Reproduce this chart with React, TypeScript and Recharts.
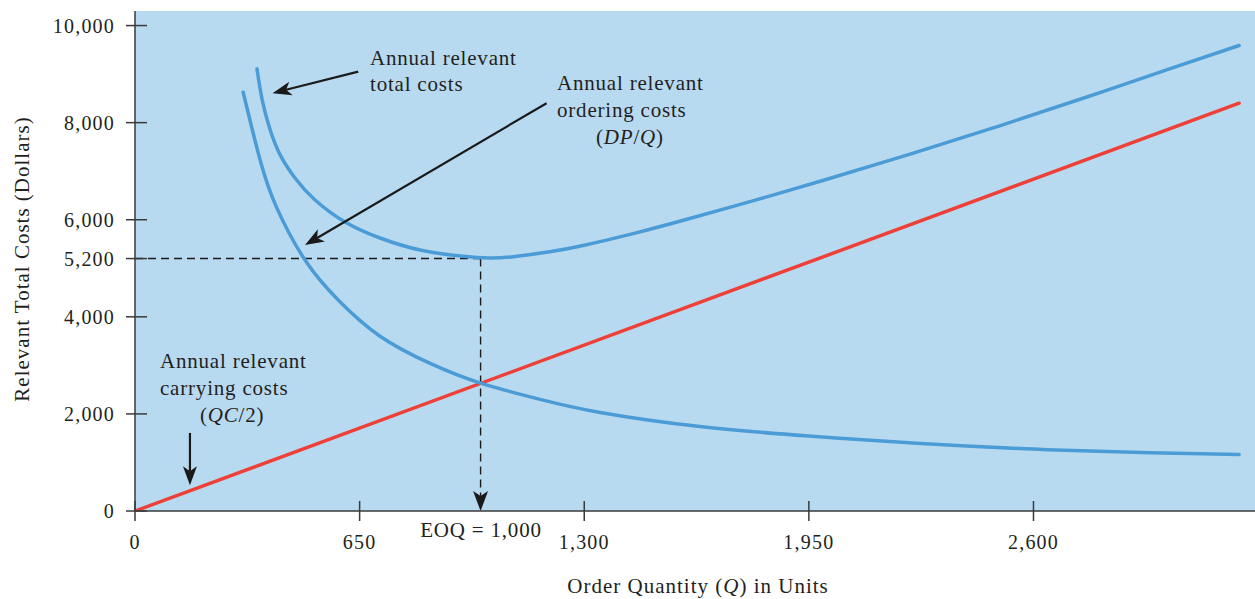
import React from "react";
import { LineChart, Line, XAxis, YAxis, CartesianGrid, ReferenceLine } from "recharts";

// ---- Data ----
const orderingQ = [313, 362, 410, 492, 588, 709, 854, 998, 1172, 1346, 1635, 1950, 2262, 2601, 2937, 3195];
const orderingV = [8627, 7231, 6250, 5169, 4345, 3600, 3040, 2639, 2300, 2030, 1740, 1545, 1395, 1275, 1200, 1163];

const totalQ = [353, 368, 391, 420, 463, 521, 608, 709, 825, 941, 1027, 1100, 1200, 1300, 1450, 1600, 1800, 2000, 2250, 2500, 2750, 3000, 3195];
const totalV = [9108, 8470, 7852, 7336, 6860, 6408, 5954, 5624, 5376, 5252, 5212, 5244, 5339, 5474, 5729, 6014, 6414, 6830, 7368, 7930, 8518, 9123, 9590];

const carryingQ = [0, 3195];
const carryingV = [0, 8400];

const xTicks = [0, 650, 1300, 1950, 2600];
const xTickLabels = ["0", "650", "1,300", "1,950", "2,600"];
const yTicks = [0, 2000, 4000, 5200, 6000, 8000, 10000];
const yTickLabels = ["0", "2,000", "4,000", "5,200", "6,000", "8,000", "10,000"];

const EOQ = 1000;
const MIN_COST = 5200;

const X_MAX = 3241;
const Y_MAX = 10300;

const toRows = (q: number[], v: number[]) => q.map((x, i) => ({ q: x, v: v[i] }));
const orderingData = toRows(orderingQ, orderingV);
const totalData = toRows(totalQ, totalV);
const carryingData = toRows(carryingQ, carryingV);

const FONT = "'Liberation Serif', 'Times New Roman', serif";
const INK = "#231f20";
const AXIS = "#3a3a3a";
const BLUE = "#4b9cd6";
const RED = "#ee4037";
const BG = "#b8daf1";

const YTick = (props: any) => {
  const { x, y, payload } = props;
  const idx = yTicks.indexOf(payload.value);
  return (
    <g>
      <line x1={x - 9} x2={x + 12} y1={y} y2={y} stroke={AXIS} strokeWidth={1.5} />
      <text x={x - 20} y={y} dy="0.36em" textAnchor="end" fontFamily={FONT} fontSize={20} letterSpacing={1.2} fill={INK}>
        {idx >= 0 ? yTickLabels[idx] : payload.value}
      </text>
    </g>
  );
};

const XTick = (props: any) => {
  const { x, y, payload } = props;
  const idx = xTicks.indexOf(payload.value);
  return (
    <g>
      <line x1={x} x2={x} y1={y - 10} y2={y + 10} stroke={AXIS} strokeWidth={1.5} />
      <text x={x} y={y + 38} textAnchor="middle" fontFamily={FONT} fontSize={20} letterSpacing={1.2} fill={INK}>
        {idx >= 0 ? xTickLabels[idx] : payload.value}
      </text>
    </g>
  );
};

const makeArrow = (opts: { len: number; half: number; notch: number; dash?: string; width: number; color: string }) =>
  (props: any) => {
    const { x1, y1, x2, y2 } = props;
    const dx = x2 - x1;
    const dy = y2 - y1;
    const d = Math.sqrt(dx * dx + dy * dy) || 1;
    const ux = dx / d;
    const uy = dy / d;
    const px = -uy;
    const py = ux;
    const bx = x2 - opts.len * ux;
    const by = y2 - opts.len * uy;
    const nx = x2 - (opts.len - opts.notch) * ux;
    const ny = y2 - (opts.len - opts.notch) * uy;
    const pts = [
      [x2, y2],
      [bx + opts.half * px, by + opts.half * py],
      [nx, ny],
      [bx - opts.half * px, by - opts.half * py],
    ]
      .map((p) => p.join(","))
      .join(" ");
    return (
      <g>
        <line x1={x1} y1={y1} x2={nx} y2={ny} stroke={opts.color} strokeWidth={opts.width} strokeDasharray={opts.dash} />
        <polygon points={pts} fill={opts.color} />
      </g>
    );
  };

const solidArrow = makeArrow({ len: 19, half: 7, notch: 5, width: 2.2, color: "#1a1a1a" });
const dashedArrow = makeArrow({ len: 20, half: 7.5, notch: 5, width: 1.4, dash: "8 5", color: "#1a1a1a" });

const textStyle = { fontFamily: FONT, fontSize: 21, letterSpacing: 0.8, fill: INK } as const;

export default function App() {
  return (
    <div style={{ position: "absolute", left: 0, top: 0, width: 1255, height: 599, background: "#ffffff" }}>
      <LineChart width={1255} height={599} margin={{ top: 11, right: 0, bottom: 58, left: 0 }}>
        <CartesianGrid horizontal={false} vertical={false} fill={BG} fillOpacity={1} stroke="none" />
        <XAxis
          type="number"
          dataKey="q"
          domain={[0, X_MAX]}
          ticks={xTicks}
          allowDataOverflow
          height={30}
          tickSize={0}
          tickMargin={0}
          tickLine={false}
          axisLine={{ stroke: AXIS, strokeWidth: 1.5 }}
          tick={<XTick />}
          interval={0}
        />
        <YAxis
          type="number"
          domain={[0, Y_MAX]}
          ticks={yTicks}
          allowDataOverflow
          width={135}
          tickSize={0}
          tickMargin={0}
          tickLine={false}
          axisLine={{ stroke: AXIS, strokeWidth: 1.5 }}
          tick={<YTick />}
          interval={0}
        />

        <ReferenceLine
          segment={[{ x: 0, y: MIN_COST }, { x: EOQ, y: MIN_COST }]}
          stroke="#1a1a1a"
          strokeWidth={1.4}
          strokeDasharray="8 5"
        />
        <ReferenceLine
          segment={[{ x: EOQ, y: MIN_COST }, { x: EOQ, y: 0 }]}
          shape={dashedArrow}
        />

        <Line data={carryingData} dataKey="v" type="linear" stroke={RED} strokeWidth={3.5} strokeLinecap="round" dot={false} activeDot={false} isAnimationActive={false} />
        <Line data={orderingData} dataKey="v" type="natural" stroke={BLUE} strokeWidth={3.5} strokeLinecap="round" dot={false} activeDot={false} isAnimationActive={false} />
        <Line data={totalData} dataKey="v" type="natural" stroke={BLUE} strokeWidth={3.5} strokeLinecap="round" dot={false} activeDot={false} isAnimationActive={false} />

        <ReferenceLine segment={[{ x: 646, y: 9052 }, { x: 398, y: 8607 }]} shape={solidArrow} />
        <ReferenceLine segment={[{ x: 1191, y: 8401 }, { x: 492, y: 5479 }]} shape={solidArrow} />
        <ReferenceLine segment={[{ x: 159, y: 1608 }, { x: 159, y: 530 }]} shape={solidArrow} />

        <text x={370} y={65} {...textStyle}>Annual relevant</text>
        <text x={370} y={91} {...textStyle}>total costs</text>

        <text x={557} y={90} {...textStyle}>Annual relevant</text>
        <text x={557} y={117} {...textStyle}>ordering costs</text>
        <text x={596} y={144} {...textStyle}>
          (<tspan fontStyle="italic">DP</tspan>/<tspan fontStyle="italic">Q</tspan>)
        </text>

        <text x={160} y={368} {...textStyle}>Annual relevant</text>
        <text x={160} y={395} {...textStyle}>carrying costs</text>
        <text x={200} y={422} {...textStyle}>
          (<tspan fontStyle="italic">QC</tspan>/2)
        </text>

        <text x={481} y={537} textAnchor="middle" {...textStyle}>EOQ = 1,000</text>

        <text x={698} y={593} textAnchor="middle" fontFamily={FONT} fontSize={21} letterSpacing={1} fill={INK}>
          Order Quantity (<tspan fontStyle="italic">Q</tspan>) in Units
        </text>
        <text
          x={29}
          y={259}
          textAnchor="middle"
          transform="rotate(-90, 29, 259)"
          fontFamily={FONT}
          fontSize={21}
          letterSpacing={1}
          fill={INK}
        >
          Relevant Total Costs (Dollars)
        </text>
      </LineChart>
    </div>
  );
}
